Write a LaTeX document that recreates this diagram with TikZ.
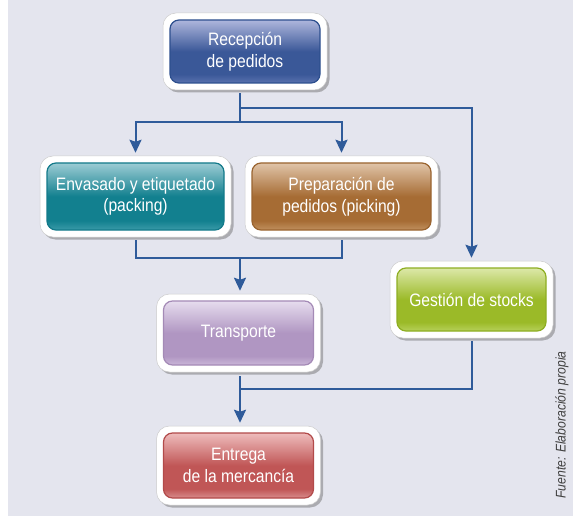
\documentclass[tikz,border=0pt]{standalone}
\usepackage{fontspec}
\setmainfont{Liberation Sans}[FakeStretch=0.87]
\usetikzlibrary{arrows.meta,shadows,calc}
\definecolor{bg}{HTML}{E4E5EE}
\definecolor{conn}{HTML}{2F5B9A}
\definecolor{recB}{HTML}{3A5898}\definecolor{recT}{HTML}{AEB6DC}\definecolor{recL}{HTML}{5A72AE}\definecolor{recD}{HTML}{2D4F8E}
\definecolor{envB}{HTML}{12808F}\definecolor{envT}{HTML}{9CCCD4}\definecolor{envL}{HTML}{3A9AA8}\definecolor{envD}{HTML}{137A8A}
\definecolor{prepB}{HTML}{A66C34}\definecolor{prepT}{HTML}{E0C4A8}\definecolor{prepL}{HTML}{C0905E}\definecolor{prepD}{HTML}{9A6430}
\definecolor{gesB}{HTML}{9BBA28}\definecolor{gesT}{HTML}{DCE8A8}\definecolor{gesL}{HTML}{B6D05A}\definecolor{gesD}{HTML}{8EAE22}
\definecolor{traB}{HTML}{B096C2}\definecolor{traT}{HTML}{E6DCEE}\definecolor{traL}{HTML}{CAB6D8}\definecolor{traD}{HTML}{A48AB6}
\definecolor{entB}{HTML}{C05656}\definecolor{entT}{HTML}{EEBCBC}\definecolor{entL}{HTML}{D88C8C}\definecolor{entD}{HTML}{B24A4A}
\newcommand\mkglossy[1]{\pgfdeclareverticalshading{#1S}{100bp}{color(0bp)=(#1L); color(25bp)=(#1L); color(32bp)=(#1B); color(50bp)=(#1B); color(75bp)=(#1T); color(100bp)=(#1T)}}
\mkglossy{rec}\mkglossy{env}\mkglossy{prep}\mkglossy{ges}\mkglossy{tra}\mkglossy{ent}
\tikzset{
  frame/.style={fill=white, draw=black!20, line width=0.5pt, rounded corners=13pt, inner sep=0pt,
    drop shadow={shadow xshift=2.5pt, shadow yshift=-2.5pt, opacity=0.45, fill=black!60}},
  inbox/.style={rounded corners=9pt, line width=1.2pt, inner sep=0pt, align=center,
    text=white, font=\fontsize{18}{21.5}\selectfont},
  palette/.style={inbox, draw=#1D, shading=#1S},
  link/.style={draw=conn, line width=2pt},
  arrowlink/.style={link, -{Stealth[length=13pt,width=12pt,inset=2pt]}, shorten >=3pt},
}
\begin{document}
\begin{tikzpicture}[x=1pt,y=-1pt]
\useasboundingbox (0,0) rectangle (573,516);
\fill[white] (0,0) rectangle (573,516);
\fill[bg] (8,0) rectangle (573,516);

% boxes
\node[frame, minimum width=164pt, minimum height=77pt] (recF) at (245,51.5) {};
\node[palette=rec, minimum width=150pt, minimum height=63pt] (rec) at (recF) {Recepción\\de pedidos};

\node[frame, minimum width=191pt, minimum height=81pt] (envF) at (135.5,196.5) {};
\node[palette=env, minimum width=177pt, minimum height=67pt] (env) at (envF) {Envasado y etiquetado\\(packing)};

\node[frame, minimum width=193pt, minimum height=81pt] (prepF) at (341.5,196.5) {};
\node[palette=prep, minimum width=179pt, minimum height=67pt] (prep) at (prepF) {Preparación de\\pedidos (picking)};

\node[frame, minimum width=163pt, minimum height=77pt] (gesF) at (471.5,299.5) {};
\node[palette=ges, minimum width=149pt, minimum height=63pt] (ges) at (gesF) {Gestión de stocks};

\node[frame, minimum width=164pt, minimum height=78pt] (traF) at (238.5,333) {};
\node[palette=tra, minimum width=150pt, minimum height=64pt] (tra) at (traF) {Transporte};

\node[frame, minimum width=164pt, minimum height=79pt] (entF) at (238.5,465.5) {};
\node[palette=ent, minimum width=150pt, minimum height=65pt] (ent) at (entF) {Entrega\\de la mercancía};

% junctions
\coordinate (j1) at (240,108);
\coordinate (j2) at (240,122);
\coordinate (j3) at (240,258);
\coordinate (j4) at (240,389);

% connectors
\draw[link] ([yshift=-3pt]recF.south -| j1) -- (j2);
\draw[arrowlink] (j1) -- (j1 -| gesF.north) -- (gesF.north);
\draw[arrowlink] (j2) -| (envF.north);
\draw[arrowlink] (j2) -| (prepF.north);
\draw[link] ([yshift=-3pt]envF.south) |- (j3);
\draw[link] ([yshift=-3pt]prepF.south) |- (j3);
\draw[arrowlink] (j3) -- (j3 |- traF.north);
\draw[arrowlink] ([yshift=-4pt]traF.south -| j4) -- (j4 |- entF.north);
\draw[link] ([yshift=-3pt]gesF.south) |- (j4);

% source
\node[rotate=90, text=black!75, font=\itshape\fontsize{14}{16}\selectfont] (src) at (562,425) {Fuente: Elaboración propia};
\end{tikzpicture}
\end{document}
